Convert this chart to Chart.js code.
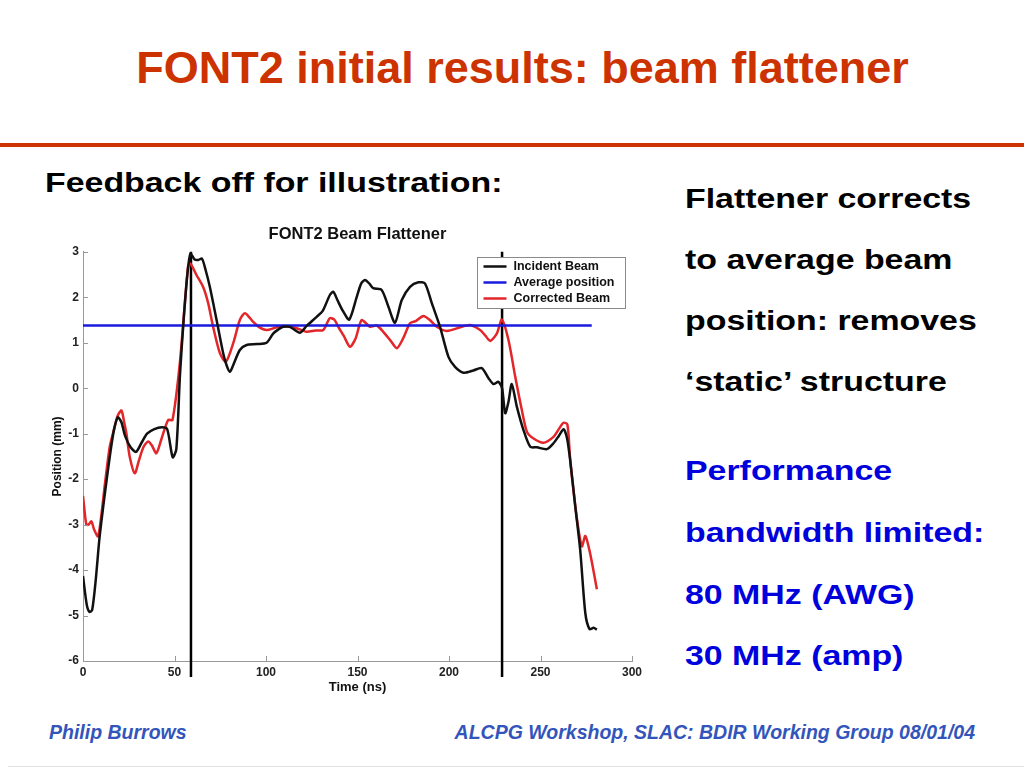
<!DOCTYPE html>
<html>
<head>
<meta charset="utf-8">
<script src="https://cdn.jsdelivr.net/npm/chart.js@4/dist/chart.umd.min.js"></script>
<style>
  html, body { margin:0; padding:0; background:#fff; }
  body { width:1024px; height:768px; position:relative; overflow:hidden; font-family:"Liberation Sans", Arial, sans-serif; }
  .t { position:absolute; white-space:nowrap; line-height:1; font-weight:bold; }
  .s { transform:scaleX(1.21); transform-origin:0 0; }
  #rule { position:absolute; left:0; top:143px; width:1024px; height:4px; background:#cc3300; }
  #foot { position:absolute; left:8px; top:766px; width:1016px; height:1px; background:#e2e2e2; }
  #wrap { position:absolute; left:40px; top:200px; width:610px; height:500px; }
</style>
</head>
<body>
<div class="t" id="title" style="left:0; width:1045px; text-align:center; top:45px; font-size:45px; color:#cc3300;">FONT2 initial results: beam flattener</div>
<div id="rule"></div>
<div class="t s" style="left:45px; top:169px; font-size:28px; color:#000;">Feedback off for illustration:</div>
<div class="t s" style="left:685px; top:185px; font-size:28px; color:#000;">Flattener corrects</div>
<div class="t s" style="left:685px; top:246px; font-size:28px; color:#000;">to average beam</div>
<div class="t s" style="left:685px; top:307px; font-size:28px; color:#000;">position: removes</div>
<div class="t s" style="left:685px; top:368px; font-size:28px; color:#000;">‘static’ structure</div>
<div class="t s" style="left:685px; top:457px; font-size:28px; color:#0000dd;">Performance</div>
<div class="t s" style="left:685px; top:519px; font-size:28px; color:#0000dd;">bandwidth limited:</div>
<div class="t s" style="left:685px; top:581px; font-size:28px; color:#0000dd;">80 MHz (AWG)</div>
<div class="t s" style="left:685px; top:642px; font-size:28px; color:#0000dd;">30 MHz (amp)</div>
<div class="t" style="left:49px; top:723px; font-size:19.5px; color:#3355bb; font-style:italic;">Philip Burrows</div>
<div class="t" style="right:49px; top:723px; font-size:19.5px; color:#3355bb; font-style:italic;">ALCPG Workshop, SLAC: BDIR Working Group 08/01/04</div>
<div id="foot"></div>
<div id="wrap"><canvas id="c" width="610" height="500"></canvas></div>
<script>
// ---- data ----
const incidentTime = [0,2,3.5,5,7,9,12,15,17,19,21,23,26,29,32,35,39,43,46,49,51,53,55,57,58.7,61,63,65,67,69.3,73,76.6,78.5,80.3,82,85.7,89.4,95,100.3,103.9,107,109.4,113,118.5,122.2,127.7,131,134.9,136.8,139,142,145.5,149.6,152,154.1,156.5,158.6,163.2,166.9,170.5,174.2,178.7,183.3,186.9,190.6,195.1,199.7,203.3,207.9,213.3,217.9,221.6,224.3,227,229,230.7,232.5,234.3,237.1,240.7,244.4,248,253.5,257.1,260,262.6,264.5,266.2,269,271.7,274.5,276.8,279,280.8];
const incidentPos = [-4.13,-4.75,-4.92,-4.88,-4.2,-3.3,-2.3,-1.4,-0.9,-0.64,-0.75,-1.05,-1.3,-1.4,-1.2,-1.0,-0.9,-0.86,-0.9,-1.52,-1.34,0.3,1.5,2.5,2.96,2.83,2.82,2.85,2.6,2.23,1.5,0.77,0.5,0.36,0.5,0.84,0.95,0.97,1.0,1.2,1.3,1.35,1.35,1.22,1.37,1.57,1.7,2.05,2.12,1.94,1.7,1.51,2.01,2.3,2.38,2.3,2.2,2.16,1.79,1.44,1.94,2.23,2.33,2.3,1.87,1.35,0.69,0.47,0.34,0.39,0.44,0.22,0.09,0.14,0.0,-0.55,-0.3,0.09,-0.41,-0.92,-1.29,-1.3,-1.34,-1.21,-1.05,-0.9,-1.1,-1.58,-2.6,-3.56,-4.95,-5.3,-5.27,-5.31];

const correctedTime = [0,1.8,3,4.6,6,8.2,10,12,14.6,17,19,21,22.5,23.7,25.5,28.3,30.5,33,35.6,37.5,40.1,43,46.5,48.9,52.9,57.4,58.7,62,65.6,68.4,71.1,74.8,78.1,82.1,85.7,88.5,93,96,100.3,105,109.4,113,116.7,122.2,127,131.3,134.9,137.5,139.5,142.5,145.9,149,152.3,156.8,160.5,164.1,168,171.5,175,178.7,182,186,189.5,193.3,198.8,206.1,211.5,217,220,222.5,226.1,228.9,232.5,236.2,239.8,242.6,246,251.6,257.1,260,262.6,264.7,266.2,268,270,272.6,274.5,277.1,280.8];
const correctedPos = [-2.37,-3.0,-3.0,-2.93,-3.1,-3.26,-2.8,-2.1,-1.29,-0.9,-0.6,-0.49,-0.75,-0.99,-1.5,-1.87,-1.6,-1.3,-1.17,-1.25,-1.43,-1.1,-0.7,-0.7,0.55,2.67,2.74,2.49,2.23,1.87,1.35,0.77,0.58,0.99,1.5,1.65,1.46,1.35,1.28,1.33,1.37,1.35,1.32,1.24,1.27,1.28,1.54,1.5,1.35,1.15,0.91,1.1,1.5,1.35,1.38,1.24,1.05,0.88,1.1,1.43,1.48,1.59,1.5,1.35,1.26,1.34,1.39,1.28,1.15,1.04,1.2,1.51,1.06,0.25,-0.48,-0.96,-1.1,-1.2,-1.07,-0.9,-0.76,-0.8,-1.55,-2.24,-2.9,-3.48,-3.25,-3.63,-4.42];

const averageTime = [0, 278];
const averagePos = [1.38, 1.38];

const markerTimes = [59, 229];      // vertical markers
const markerRange = [3, -6.35];     // top/bottom of marker lines

const seriesNames = ['Incident Beam', 'Average position', 'Corrected Beam'];
const xTicks = [0, 50, 100, 150, 200, 250, 300];
const yTicks = [-6, -5, -4, -3, -2, -1, 0, 1, 2, 3];

// ---- build ----
const zip = (xs, ys) => xs.map((x, i) => ({x, y: ys[i]}));
const FONT = '"Liberation Sans", Arial, sans-serif';
const COL = {black:'#111111', blue:'#1a1ae0', red:'#e2262a'};

const datasets = [
  {label: seriesNames[0], data: zip(incidentTime, incidentPos), borderColor: COL.black, borderWidth: 2.5, tension: 0.25, pointRadius: 0, showInLegend: true},
  {label: seriesNames[1], data: zip(averageTime, averagePos), borderColor: COL.blue, borderWidth: 2.5, tension: 0, pointRadius: 0, showInLegend: true},
  {label: seriesNames[2], data: zip(correctedTime, correctedPos), borderColor: COL.red, borderWidth: 2.5, tension: 0.25, pointRadius: 0, showInLegend: true},
];
markerTimes.forEach(t => datasets.push({
  label: 'marker', data: zip([t, t], markerRange), borderColor: '#000', borderWidth: 2.5,
  pointRadius: 0, clip: false, showInLegend: false
}));

const innerTicks = {
  id: 'innerTicks',
  afterDraw(chart) {
    const {ctx, chartArea: a, scales: {x, y}} = chart;
    ctx.save();
    ctx.strokeStyle = '#9a9a9a'; ctx.lineWidth = 1;
    ctx.beginPath();
    xTicks.forEach(v => { const p = Math.round(x.getPixelForValue(v)) + 0.5; ctx.moveTo(p, a.bottom); ctx.lineTo(p, a.bottom - 5); });
    yTicks.forEach(v => { const p = Math.round(y.getPixelForValue(v)) + 0.5; ctx.moveTo(a.left, p); ctx.lineTo(a.left + 5, p); });
    ctx.stroke();
    ctx.restore();
  }
};

const boxLegend = {
  id: 'boxLegend',
  afterDraw(chart) {
    const {ctx, chartArea: a} = chart;
    const items = chart.data.datasets.filter(d => d.showInLegend);
    const w = 148, h = 51;
    const x0 = Math.round(a.right - 7 - w) + 0.5, y0 = Math.round(a.top + 5) + 0.5;
    ctx.save();
    ctx.fillStyle = '#fff';
    ctx.fillRect(x0, y0, w, h);
    ctx.strokeStyle = '#8a8a8a'; ctx.lineWidth = 1;
    ctx.strokeRect(x0, y0, w, h);
    ctx.font = 'bold 12.5px ' + FONT;
    ctx.textBaseline = 'middle';
    items.forEach((d, i) => {
      const yy = y0 + 9 + i * 16;
      ctx.strokeStyle = d.borderColor; ctx.lineWidth = 2.5;
      ctx.beginPath(); ctx.moveTo(x0 + 6, yy); ctx.lineTo(x0 + 29, yy); ctx.stroke();
      ctx.fillStyle = '#111';
      ctx.fillText(d.label, x0 + 36, yy + 0.5);
    });
    ctx.restore();
  }
};

new Chart(document.getElementById('c'), {
  type: 'line',
  data: {datasets},
  options: {
    responsive: false,
    animation: false,
    layout: {padding: {left: 0, right: 18, top: 0, bottom: 0}},
    plugins: {
      legend: {display: false},
      tooltip: {enabled: false},
      title: {display: true, text: 'FONT2 Beam Flattener', fullSize: false, color: '#111',
              font: {family: FONT, size: 16.5, weight: 'bold'}, padding: {top: 25, bottom: 7}}
    },
    scales: {
      x: {
        type: 'linear', min: 0, max: 300,
        afterFit: s => { s.height = 39; },
        afterBuildTicks: s => { s.ticks = xTicks.map(v => ({value: v})); },
        ticks: {font: {family: FONT, size: 12, weight: 'bold'}, color: '#222', padding: 4, maxRotation: 0},
        grid: {display: false, drawTicks: false},
        border: {color: '#9a9a9a', width: 1},
        title: {display: true, text: 'Time (ns)', color: '#111', font: {family: FONT, size: 13, weight: 'bold'}, padding: {top: 0, bottom: 5}}
      },
      y: {
        type: 'linear', min: -6, max: 3,
        afterFit: s => { s.width = 43; },
        afterBuildTicks: s => { s.ticks = yTicks.map(v => ({value: v})); },
        ticks: {font: {family: FONT, size: 12, weight: 'bold'}, color: '#222', padding: 4},
        grid: {display: false, drawTicks: false},
        border: {color: '#9a9a9a', width: 1},
        title: {display: true, text: 'Position (mm)', color: '#111', font: {family: FONT, size: 12, weight: 'bold'}, padding: {top: 10, bottom: 0}}
      }
    }
  },
  plugins: [innerTicks, boxLegend]
});
</script>
</body>
</html>
